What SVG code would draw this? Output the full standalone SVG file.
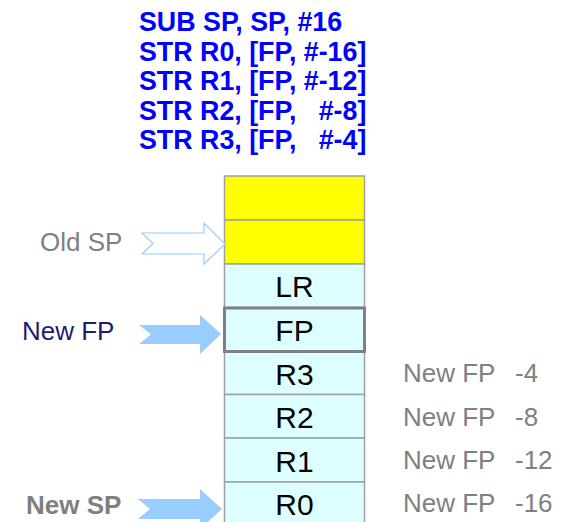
<svg xmlns="http://www.w3.org/2000/svg" width="572" height="522" viewBox="0 0 572 522">
<style>
.code{font-family:"Liberation Sans",Arial,sans-serif;font-weight:bold;font-size:26.8px;fill:#0000ff;white-space:pre}
.cell{stroke:#a0a0a0;stroke-width:1.5}
.y{fill:#ffff00}
.c{fill:#ddffff}
.lbl{font-family:"Liberation Sans",Arial,sans-serif;font-size:30px;fill:#000;text-anchor:middle}
.off{font-family:"Liberation Sans",Arial,sans-serif;font-size:26px;fill:#808080}
.arrow{fill:#99ccff}
</style>
<g id="code">
<text class="code" x="139" y="31">SUB SP, SP, #16</text>
<text class="code" x="139" y="60.5">STR R0, [FP, #-16]</text>
<text class="code" x="139" y="90">STR R1, [FP, #-12]</text>
<text class="code" x="139" y="119.5" xml:space="preserve">STR R2, [FP,   #-8]</text>
<text class="code" x="139" y="149" xml:space="preserve">STR R3, [FP,   #-4]</text>
</g>
<g id="stack">
<g id="cell-y1"><rect class="cell y" x="224.5" y="176" width="140" height="44"/></g>
<g id="cell-y2"><rect class="cell y" x="224.5" y="220" width="140" height="44"/></g>
<g id="cell-lr"><rect class="cell c" x="224.5" y="264" width="140" height="43.5"/><text class="lbl" x="294.5" y="297">LR</text></g>
<g id="cell-r3"><rect class="cell c" x="224.5" y="351.5" width="140" height="43"/><text class="lbl" x="294.5" y="384.5">R3</text></g>
<g id="cell-r2"><rect class="cell c" x="224.5" y="394.5" width="140" height="43.5"/><text class="lbl" x="294.5" y="427.5">R2</text></g>
<g id="cell-r1"><rect class="cell c" x="224.5" y="438" width="140" height="44"/><text class="lbl" x="294.5" y="471.5">R1</text></g>
<g id="cell-r0"><rect class="cell c" x="224.5" y="482" width="140" height="44"/><text class="lbl" x="294.5" y="515">R0</text></g>
<g id="cell-fp"><rect x="224.5" y="308" width="140" height="43.5" fill="#ddffff" stroke="#808080" stroke-width="3"/><text class="lbl" x="294.5" y="340.5">FP</text></g>
</g>
<g id="offsets">
<text class="off" x="403" y="382">New FP</text><text class="off" x="515" y="382">-4</text>
<text class="off" x="403" y="425.5">New FP</text><text class="off" x="515" y="425.5">-8</text>
<text class="off" x="403" y="469">New FP</text><text class="off" x="515" y="469">-12</text>
<text class="off" x="403" y="512">New FP</text><text class="off" x="515" y="512">-16</text>
</g>
<g id="old-sp">
<text x="40" y="251" font-family="Liberation Sans, Arial, sans-serif" font-size="26px" fill="#808080">Old SP</text>
</g>
<g id="new-fp">
<text x="22" y="340" font-family="Liberation Sans, Arial, sans-serif" font-size="26px" fill="#1c1c72">New FP</text>
</g>
<g id="new-sp">
<text x="26" y="514" font-family="Liberation Sans, Arial, sans-serif" font-size="26px" font-weight="bold" fill="#808080">New SP</text>
</g>
<g id="connectors">
<polygon points="142,233 204,233 204,223 225,244 204,264 204,254 142,254 153,243.5" fill="#ffffff" stroke="#99ccff" stroke-width="1.2"/>
<polygon class="arrow" points="139,325 200,325 200,315 221,334 200,354 200,344 139,344 151,334.5"/>
<polygon class="arrow" points="138,499 200,499 200,489 222,509 200,529 200,519 138,519 150,509"/>
</g>
</svg>
